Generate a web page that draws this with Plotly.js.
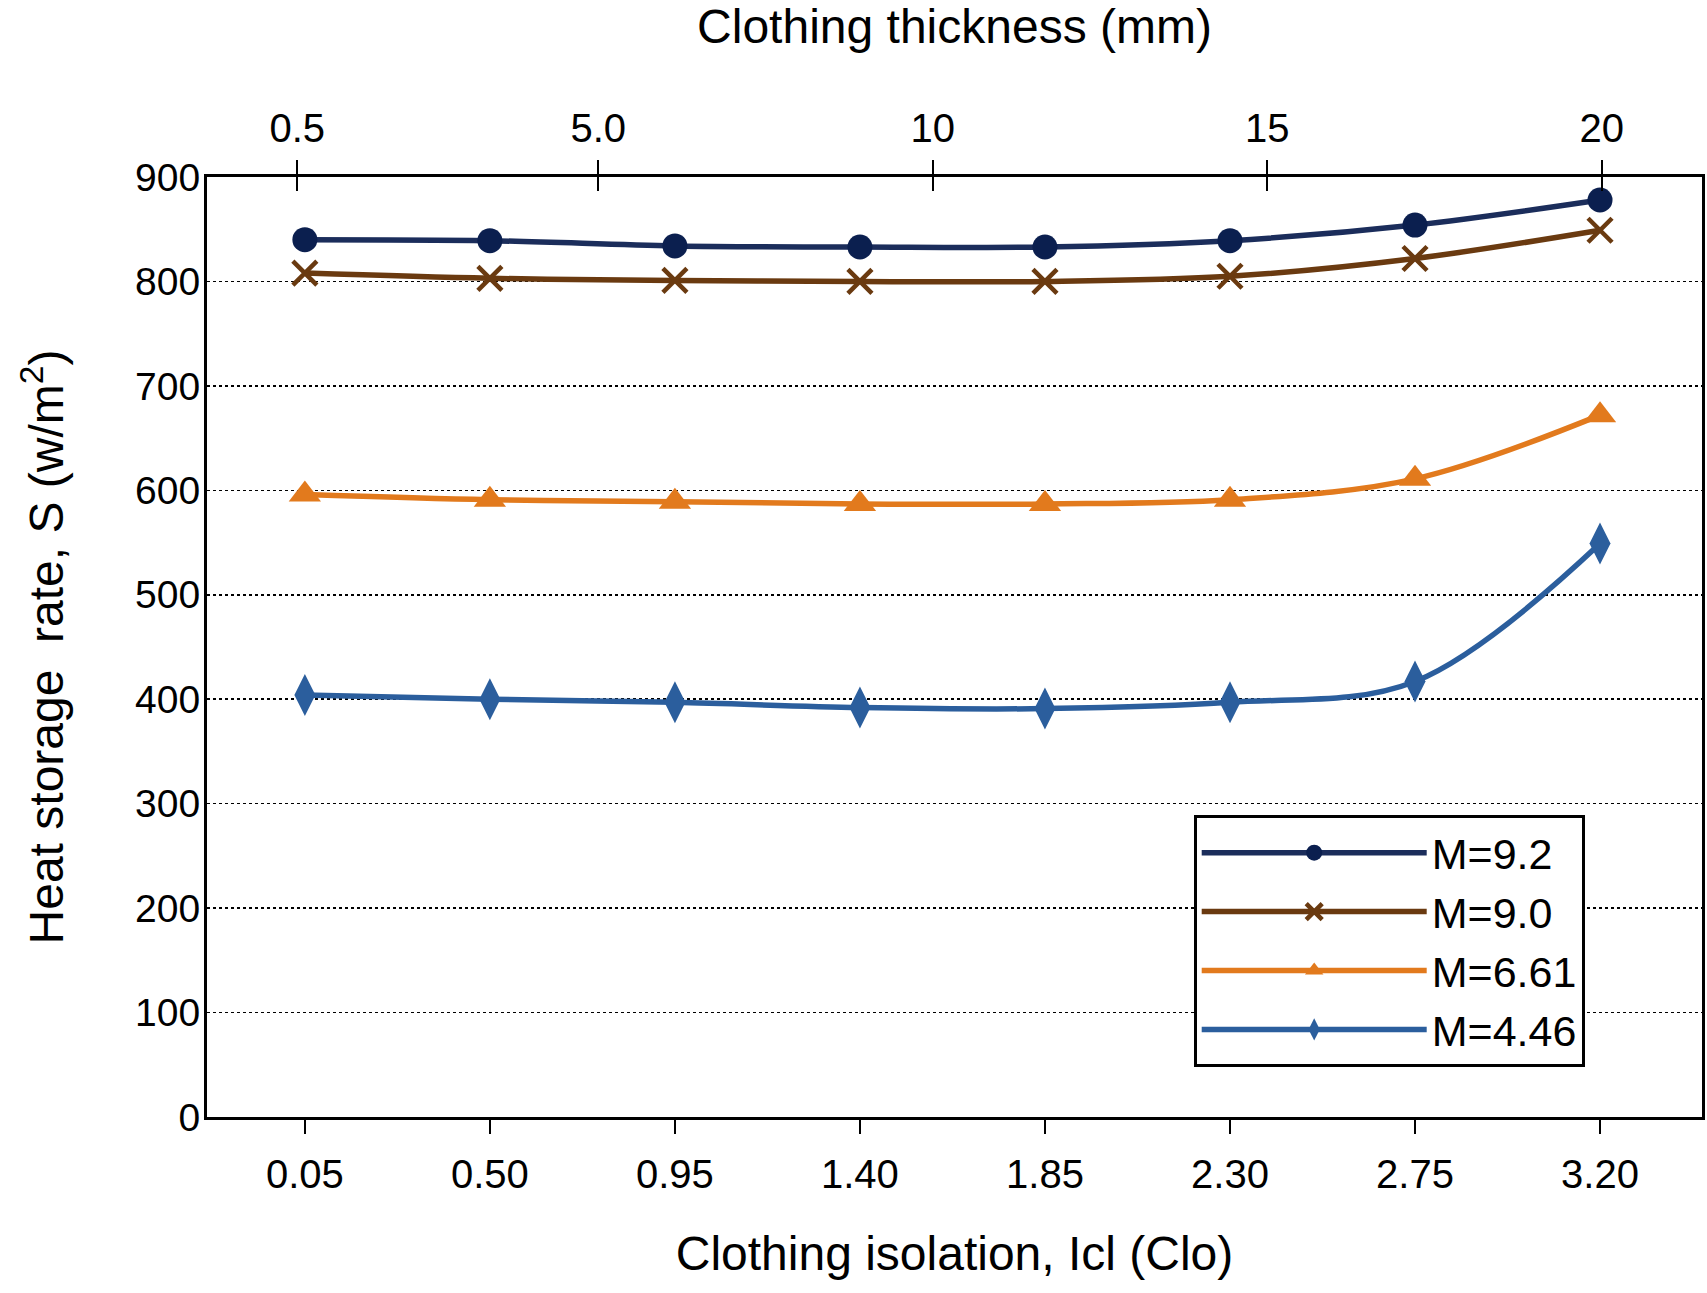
<!DOCTYPE html>
<html><head><meta charset="utf-8">
<script src="https://cdn.plot.ly/plotly-3.0.1.min.js"></script>
<style>html,body{margin:0;padding:0;background:#fff}</style>
</head><body>
<div id="chart" style="width:1707px;height:1293px"></div>
<script>
// Clothing isolation (Clo) categories on the bottom axis
const clo = [0.05, 0.50, 0.95, 1.40, 1.85, 2.30, 2.75, 3.20];
const cloTickText = ['0.05', '0.50', '0.95', '1.40', '1.85', '2.30', '2.75', '3.20'];
// Clothing thickness (mm) ticks on the top axis
const thicknessTicks = [0.5, 5, 10, 15, 20];
const thicknessTickText = ['0.5', '5.0', '10', '15', '20'];
// Heat storage rate series, S (w/m2)
const seriesNames = ['M=9.2', 'M=9.0', 'M=6.61', 'M=4.46'];
const m92  = [840, 839, 834, 833, 833, 839, 854, 878];
const m90  = [808, 803, 801, 800, 800, 805, 822, 849];
const m661 = [596, 591, 589, 587, 587, 591, 611, 672];
const m446 = [404, 400, 397, 392, 391, 397, 417, 549];
const yTicks = [0, 100, 200, 300, 400, 500, 600, 700, 800, 900];

const FONT = 'Liberation Sans, Arial, Helvetica, sans-serif';
const LW = 5.5;

const traces = [
  {x: clo, y: m92, name: seriesNames[0], mode: 'lines+markers',
   line: {color: '#1b2d5b', width: LW, shape: 'spline', smoothing: 1},
   marker: {symbol: 'circle', size: 25, color: '#0b1f4f'}},
  {x: clo, y: m90, name: seriesNames[1], mode: 'lines+markers',
   line: {color: '#6a3a10', width: LW, shape: 'spline', smoothing: 1},
   marker: {symbol: 'x-thin', size: 24, color: '#6a3a10', line: {color: '#6a3a10', width: 4.5}}},
  {x: clo, y: m661, name: seriesNames[2], mode: 'lines+markers',
   line: {color: '#e27a1d', width: LW, shape: 'spline', smoothing: 1},
   marker: {symbol: 'triangle-up', size: 28, color: '#e27a1d'}},
  {x: clo, y: m446, name: seriesNames[3], mode: 'lines+markers',
   line: {color: '#2b5e9d', width: LW, shape: 'spline', smoothing: 1},
   marker: {symbol: 'diamond-tall', size: 30, color: '#2b5e9d'}},
  // invisible carriers so the top thickness axes are drawn
  {x: thicknessTicks, y: thicknessTicks.map(() => null), xaxis: 'x2', yaxis: 'y',
   mode: 'markers', showlegend: false, hoverinfo: 'skip', marker: {opacity: 0}},
  {x: thicknessTicks, y: thicknessTicks.map(() => null), xaxis: 'x3', yaxis: 'y',
   mode: 'markers', showlegend: false, hoverinfo: 'skip', marker: {opacity: 0}}
];

const layout = {
  width: 1707, height: 1293,
  margin: {l: 207, r: 5, t: 177, b: 176, pad: 0},
  paper_bgcolor: '#fff', plot_bgcolor: '#fff',
  font: {family: FONT, color: '#000', size: 40},
  showlegend: true,
  legend: {
    x: 0.660, y: 0.321, xanchor: 'left', yanchor: 'top',
    bordercolor: '#000', borderwidth: 3, bgcolor: '#fff',
    font: {family: FONT, size: 43, color: '#000'},
    itemwidth: 225, tracegroupgap: 0
  },
  xaxis: {
    range: [-0.188, 3.448], tickmode: 'array', tickvals: clo, ticktext: cloTickText,
    ticks: 'outside', ticklen: 14, tickwidth: 2.5, tickcolor: '#000',
    showline: true, linecolor: '#000', linewidth: 3, mirror: false,
    showgrid: false, zeroline: false,
    tickfont: {family: FONT, size: 40}, ticklabelstandoff: 6,
    title: {text: 'Clothing isolation, Icl (Clo)', font: {family: FONT, size: 48}, standoff: 42}
  },
  xaxis2: {
    overlaying: 'x', side: 'top', anchor: 'y',
    range: [-0.85, 21.5], tickmode: 'array', tickvals: thicknessTicks, ticktext: thicknessTickText,
    ticks: 'outside', ticklen: 14, tickwidth: 2, tickcolor: '#000',
    showline: true, linecolor: '#000', linewidth: 3,
    showgrid: false, zeroline: false,
    tickfont: {family: FONT, size: 40}, ticklabelstandoff: 2,
    title: {text: 'Clothing thickness (mm)', font: {family: FONT, size: 48}, standoff: 52}
  },
  xaxis3: {
    overlaying: 'x', side: 'top', anchor: 'y',
    range: [-0.85, 21.5], tickmode: 'array', tickvals: thicknessTicks,
    showticklabels: false, ticks: 'inside', ticklen: 14, tickwidth: 2, tickcolor: '#000',
    showline: false, showgrid: false, zeroline: false
  },
  yaxis: {
    range: [0, 900], tickmode: 'array', tickvals: yTicks,
    ticks: '', showline: true, linecolor: '#000', linewidth: 3, mirror: true,
    showgrid: true, gridcolor: '#000', gridwidth: 1.5, griddash: 'dot',
    zeroline: false,
    tickfont: {family: FONT, size: 39}, ticklabelstandoff: -4,
    title: {text: 'Heat storage  rate, S (w/m<sup>2</sup>)', font: {family: FONT, size: 48}, standoff: 57}
  }
};

Plotly.newPlot('chart', traces, layout, {displayModeBar: false, staticPlot: true});
</script>
</body></html>
